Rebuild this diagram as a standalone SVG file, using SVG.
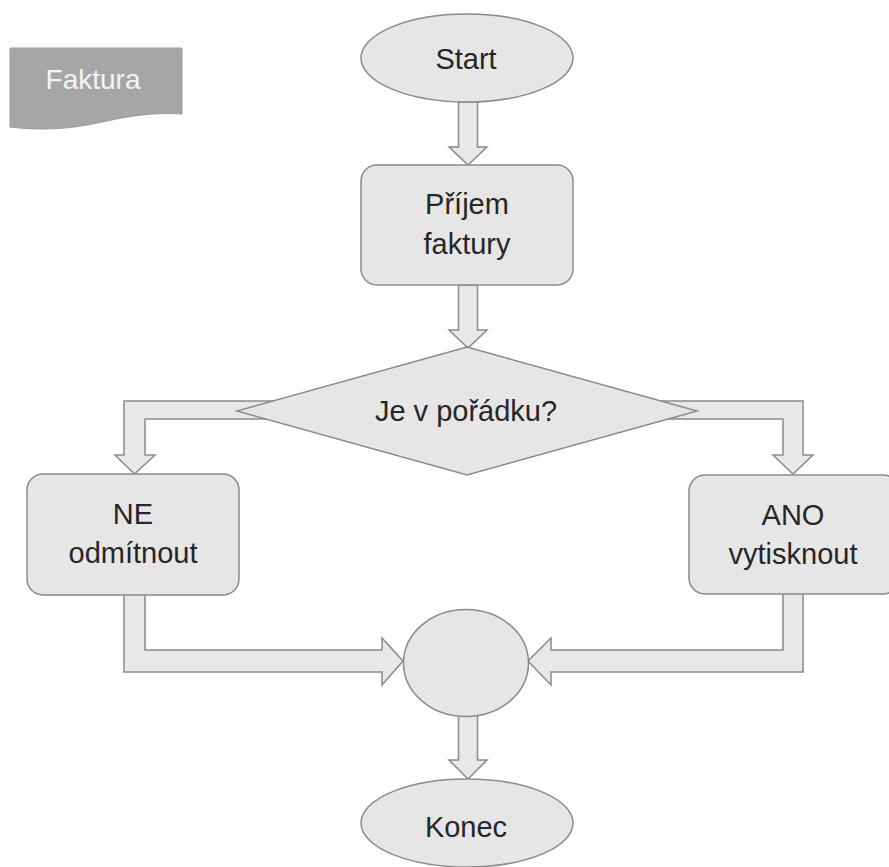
<svg xmlns="http://www.w3.org/2000/svg" width="889" height="867" viewBox="0 0 889 867">
  <style>
    .shape { fill: #e6e6e6; stroke: #8a8a8a; stroke-width: 1.5; }
    .flow { fill: #e8e8e8; stroke: #8a8a8a; stroke-width: 1.5; stroke-linejoin: miter; }
    .label { font-family: "Liberation Sans", Arial, sans-serif; font-size: 29px; fill: #262626; text-anchor: middle; }
    .tag { font-family: "Liberation Sans", Arial, sans-serif; font-size: 28px; fill: #f4f4f4; text-anchor: middle; }
  </style>
  <rect width="889" height="867" fill="#ffffff"/>

  <!-- document marker in the corner -->
  <g id="faktura">
    <path d="M10,48 H182 V114 C152,112 130,116 102,122 C72,129 42,131 10,127 Z" fill="#a6a6a6" stroke="#9a9a9a" stroke-width="1"/>
    <text class="tag" x="93" y="89">Faktura</text>
  </g>

  <!-- block-arrow connectors -->
  <g id="connectors">
    <polygon class="flow" points="458.5,102 477.5,102 477.5,147 487,147 468,165 449,147 458.5,147"/>
    <polygon class="flow" points="458.5,285 477.5,285 477.5,330 487,330 468,348 449,330 458.5,330"/>
    <polygon class="flow" points="290,401 124,401 124,455 115,455 134.5,474 155,455 145,455 145,419 290,419"/>
    <polygon class="flow" points="640,401 803,401 803,455 813,455 793,474 773,455 783,455 783,419 640,419"/>
    <polygon class="flow" points="124,588 145,588 145,650 382,650 382,638 403,661 382,685 382,672 124,672"/>
    <polygon class="flow" points="803,588 783,588 783,650 551,650 551,638 528,661 551,685 551,672 803,672"/>
    <polygon class="flow" points="458.5,712 477.5,712 477.5,760 487,760 468,779 449,760 458.5,760"/>
  </g>

  <g id="start">
    <ellipse class="shape" cx="467" cy="58" rx="106" ry="44"/>
    <text class="label" x="466" y="69">Start</text>
  </g>

  <g id="prijem">
    <rect class="shape" x="361" y="165" width="212" height="120" rx="16"/>
    <text class="label" x="467" y="214">Příjem</text>
    <text class="label" x="467" y="254">faktury</text>
  </g>

  <g id="rozhodnuti">
    <polygon class="shape" points="467,347 697,411 467,475 237,411"/>
    <text class="label" x="466" y="421">Je v pořádku?</text>
  </g>

  <g id="ne">
    <rect class="shape" x="27" y="474" width="212" height="121" rx="16"/>
    <text class="label" x="133" y="524">NE</text>
    <text class="label" x="133" y="563">odmítnout</text>
  </g>

  <g id="ano">
    <rect class="shape" x="689" y="475" width="210" height="119" rx="16"/>
    <text class="label" x="793" y="525">ANO</text>
    <text class="label" x="793" y="564">vytisknout</text>
  </g>

  <g id="spojeni">
    <ellipse class="shape" cx="466" cy="663" rx="62.5" ry="53.5"/>
  </g>

  <g id="konec">
    <ellipse class="shape" cx="467" cy="823" rx="106" ry="44"/>
    <text class="label" x="466" y="837">Konec</text>
  </g>
</svg>
